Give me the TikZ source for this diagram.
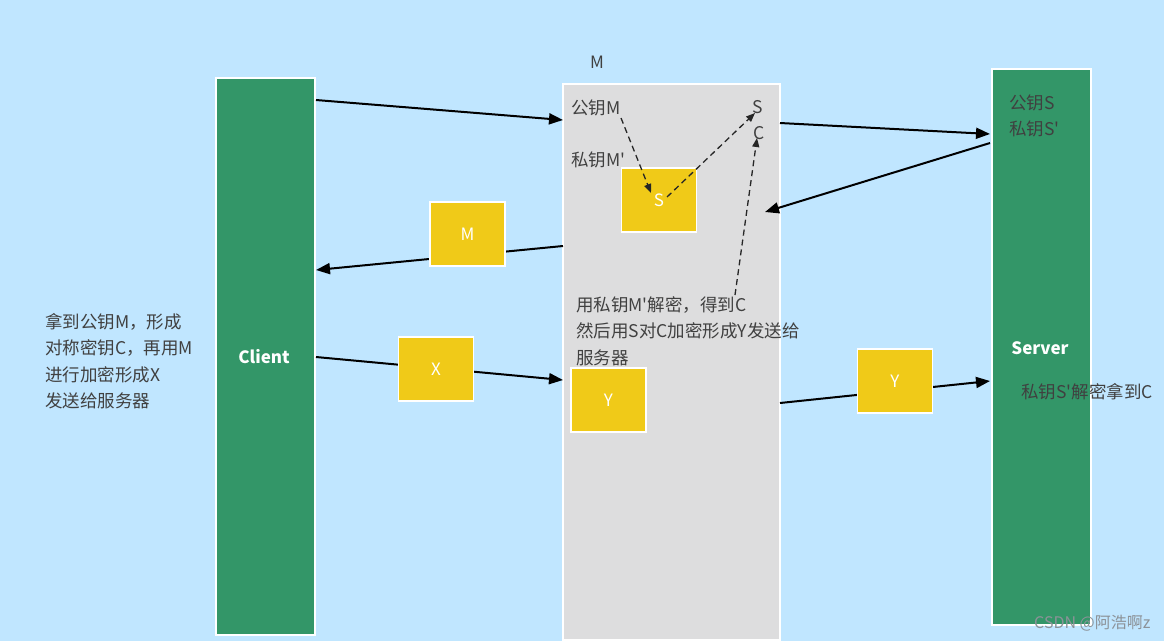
\documentclass[tikz,border=0pt]{standalone}
\usepackage{fontspec}
\setmainfont{Noto Sans CJK SC}[Ligatures=TeXOff]
\usetikzlibrary{arrows.meta}
\definecolor{bgblue}{RGB}{192,230,255}
\definecolor{boxgreen}{RGB}{51,150,104}
\definecolor{boxgray}{RGB}{221,221,222}
\definecolor{boxyellow}{RGB}{240,202,24}
\definecolor{txt}{RGB}{64,64,64}
\definecolor{wm}{RGB}{140,146,152}
\tikzset{
  col/.style={draw=white, line width=2pt, inner sep=0pt},
  ybox/.style={draw=white, line width=1.5pt, fill=boxyellow, minimum width=75pt, minimum height=64pt, inner sep=0pt, text=white, font=\fontsize{17}{20}\selectfont},
  lbl/.style={text=txt, inner sep=0pt, anchor=west, font=\fontsize{17.5}{26}\selectfont},
  blk/.style={text=txt, inner sep=0pt, anchor=north west, align=left, font=\fontsize{17.5}{26.5}\selectfont},
  arr/.style={line width=2pt, black, -{Triangle[length=14pt,width=11pt]}},
  darr/.style={line width=1.3pt, black!85, dash pattern=on 6pt off 4pt, -{Triangle[length=9pt,width=7pt]}}
}
\begin{document}
\begin{tikzpicture}[x=1pt,y=-1pt]
\fill[bgblue] (0,0) rectangle (1164,641);
\useasboundingbox (0,0) rectangle (1164,641);
% columns
\node[col, fill=boxgreen, minimum width=99pt, minimum height=557pt] (client) at (265.5,356.5) {};
\node[col, fill=boxgray, minimum width=217pt, minimum height=556pt] (mbox) at (671.5,362) {};
\node[col, fill=boxgreen, minimum width=99pt, minimum height=556pt] (server) at (1041.5,347) {};
\node[text=white, font=\fontsize{17}{20}\selectfont\bfseries, inner sep=0pt] (clientlbl) at (264,357) {Client};
\node[text=white, font=\fontsize{17}{20}\selectfont\bfseries, inner sep=0pt] (serverlbl) at (1040,348) {Server};
\node[text=txt, font=\fontsize{17}{20}\selectfont, inner sep=0pt] (mlbl) at (597,62) {M};
% server keys
\node[lbl] (pubS) at (1009,103) {公钥S};
\node[lbl] (privS) at (1009,129) {私钥S'};
\node[lbl] (decS) at (1021,392) {私钥S'解密拿到C};
% left text
\node[blk] (ltext) at (45,313) {拿到公钥M，形成\\对称密钥C，再用M\\进行加密形成X\\发送给服务器};
% M box texts
\node[lbl] (pubM) at (571,108) {公钥M};
\node[lbl] (privM) at (571,160) {私钥M'};
\node[lbl] (sS) at (752,107) {S};
\node[lbl] (sC) at (753,133) {C};
\node[blk] (mtext) at (576,296) {用私钥M'解密，得到C\\然后用S对C加密形成Y发送给\\服务器};
% solid arrows (drawn before boxes that sit on them)
\coordinate (a1s) at (316,100);
\coordinate (a1e) at (563,120);
\coordinate (a2s) at (780,123);
\coordinate (a2e) at (990,134);
\coordinate (a3s) at (990,143);
\coordinate (a3e) at (765,212);
\coordinate (a4s) at (563,246);
\coordinate (a4e) at (316,270);
\coordinate (a5s) at (316,357);
\coordinate (a5e) at (563,380);
\coordinate (a6s) at (780,403);
\coordinate (a6e) at (990,381);
\draw[arr] (a1s) -- (a1e);
\draw[arr] (a2s) -- (a2e);
\draw[arr] (a3s) -- (a3e);
\draw[arr] (a4s) -- (a4e);
\draw[arr] (a5s) -- (a5e);
\draw[arr] (a6s) -- (a6e);
% yellow boxes
\node[ybox] (sbox) at (659,200) {S};
\node[ybox] (mkey) at (467.5,234) {M};
\node[ybox] (xbox) at (436,369) {X};
\node[ybox] (ybox1) at (608.5,400) {Y};
\node[ybox] (ybox2) at (895,381) {Y};
% dashed arrows
\coordinate (d1s) at (621,118);
\coordinate (d1e) at (651,193);
\coordinate (d2s) at (667,197);
\coordinate (d2e) at (755,113);
\coordinate (d3s) at (735,295);
\coordinate (d3e) at (757,138);
\draw[darr] (d1s) -- (d1e);
\draw[darr] (d2s) -- (d2e);
\draw[darr] (d3s) -- (d3e);
% watermark
\node[text=wm, font=\fontsize{16}{18}\selectfont, inner sep=0pt, anchor=west] (wmark) at (1034,623) {CSDN @阿浩啊z};
\end{tikzpicture}
\end{document}
